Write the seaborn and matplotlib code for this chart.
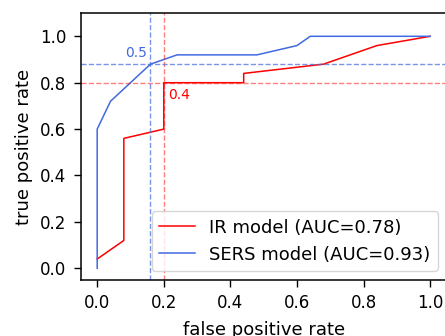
import pandas as pd
import seaborn as sns
import matplotlib
matplotlib.use("Agg")
import matplotlib.pyplot as plt

# ROC curves of the two models
ir_fpr = [0.0, 0.08, 0.08, 0.2, 0.2, 0.44, 0.44, 0.68, 0.84, 1.0]
ir_tpr = [0.04, 0.12, 0.56, 0.6, 0.8, 0.8, 0.84, 0.88, 0.96, 1.0]
sers_fpr = [0.0, 0.0, 0.04, 0.16, 0.24, 0.48, 0.6, 0.64, 1.0]
sers_tpr = [0.0, 0.6, 0.72, 0.88, 0.92, 0.92, 0.96, 1.0, 1.0]

# operating points (fpr, tpr) marked with dashed lines
ir_point = (0.2, 0.8)
sers_point = (0.16, 0.88)
ir_label = "0.4"
sers_label = "0.5"

labels = ["IR model (AUC=0.78)", "SERS model (AUC=0.93)"]
colors = ["red", "royalblue"]

df = pd.concat([
    pd.DataFrame({"fpr": ir_fpr, "tpr": ir_tpr, "model": labels[0]}),
    pd.DataFrame({"fpr": sers_fpr, "tpr": sers_tpr, "model": labels[1]}),
])

plt.rcParams["font.size"] = 12

fig = plt.figure(figsize=(4.45, 3.36), dpi=100)
ax = fig.add_axes([0.181, 0.167, 0.823, 0.794])

sns.lineplot(data=df, x="fpr", y="tpr", hue="model", palette=colors,
             sort=False, estimator=None, units="model", linewidth=1.1, ax=ax)

ax.axvline(ir_point[0], color="red", ls="--", lw=1, alpha=0.5)
ax.axhline(ir_point[1], color="red", ls="--", lw=1, alpha=0.5)
ax.axvline(sers_point[0], color="royalblue", ls="--", lw=1, alpha=0.7)
ax.axhline(sers_point[1], color="royalblue", ls="--", lw=1, alpha=0.7)

ax.text(ir_point[0] + 0.013, ir_point[1] - 0.069, ir_label, color="red",
        va="baseline", fontsize=10)
ax.text(sers_point[0] - 0.076, sers_point[1] + 0.032, sers_label, color="royalblue",
        va="baseline", fontsize=10)

ax.set_xlim(-0.05, 1.05)
ax.set_ylim(-0.05, 1.1)
ax.tick_params(length=4.8, width=1, pad=5.5, labelsize=12)
for s in ax.spines.values():
    s.set_linewidth(1.1)
ax.set_xlabel("false positive rate", fontsize=13, labelpad=6.5)
ax.set_ylabel("true positive rate", fontsize=13, labelpad=5)
ax.legend(loc="lower right", title=None, fontsize=13)

fig.savefig("out.png", dpi=100)
